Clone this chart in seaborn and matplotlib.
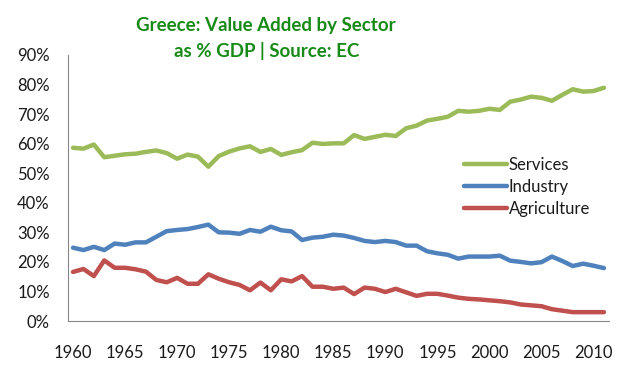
import numpy as np
import pandas as pd
import matplotlib
matplotlib.use("Agg")
import matplotlib.pyplot as plt
import seaborn as sns

# =========================
# Data (% of GDP)
# =========================
years = list(range(1960, 2012))

services = [58.6, 58.3, 59.7, 55.4, 55.9, 56.4, 56.6, 57.2, 57.7, 56.8,
            54.9, 56.3, 55.6, 52.2, 55.8, 57.3, 58.4, 59.1, 57.2, 58.2,
            56.2, 57.1, 57.8, 60.3, 59.9, 60.1, 60.1, 62.9, 61.6, 62.3,
            63.0, 62.6, 65.2, 66.1, 67.8, 68.4, 69.1, 71.1, 70.8, 71.1,
            71.8, 71.4, 74.2, 74.9, 75.9, 75.5, 74.5, 76.5, 78.4, 77.6,
            77.8, 78.9]

industry = [24.8, 24.0, 25.1, 24.0, 26.2, 25.8, 26.6, 26.6, 28.5, 30.4,
            30.8, 31.1, 31.8, 32.6, 30.0, 29.9, 29.5, 30.8, 30.2, 31.9,
            30.7, 30.3, 27.4, 28.2, 28.5, 29.2, 28.9, 28.1, 27.1, 26.7,
            27.1, 26.7, 25.5, 25.5, 23.6, 22.9, 22.4, 21.1, 21.8, 21.8,
            21.8, 22.1, 20.4, 20.0, 19.5, 19.9, 21.8, 20.3, 18.6, 19.4,
            18.7, 17.9]

agriculture = [16.6, 17.6, 15.2, 20.5, 18.0, 18.0, 17.5, 16.7, 13.9, 13.1,
               14.6, 12.6, 12.6, 15.8, 14.3, 13.1, 12.2, 10.4, 13.0, 10.4,
               14.1, 13.4, 15.2, 11.6, 11.6, 10.9, 11.3, 9.1, 11.3, 10.9,
               9.8, 10.9, 9.7, 8.5, 9.2, 9.2, 8.6, 7.9, 7.5, 7.3,
               7.0, 6.7, 6.3, 5.6, 5.3, 5.0, 4.0, 3.5, 3.0, 3.0,
               3.0, 3.0]

sectors = ["Services", "Industry", "Agriculture"]
colors = {"Services": "#9BBB59", "Industry": "#4F81BD", "Agriculture": "#C0504D"}

df = pd.DataFrame({
    "year": years * 3,
    "value": services + industry + agriculture,
    "sector": ["Services"] * len(years) + ["Industry"] * len(years) + ["Agriculture"] * len(years),
})

# =========================
# Plot
# =========================
sns.set_style("white")
plt.rcParams["font.family"] = ["Lato", "DejaVu Sans"]

fig = plt.figure(figsize=(6.28, 3.79), dpi=100)
ax = fig.add_axes([0.108, 0.153, 0.862, 0.702])

sns.lineplot(data=df, x="year", y="value", hue="sector", hue_order=sectors,
             palette=colors, linewidth=3.2, ax=ax, legend=False)

grey = "#868686"
text_col = "#1a1a1a"

ax.set_xlim(1959.5, 2011.5)
ax.set_ylim(0, 90)
ax.set_xlabel("")
ax.set_ylabel("")

ax.set_yticks(np.arange(0, 91, 10))
ax.set_yticklabels([f"{v}%" for v in range(0, 91, 10)], fontsize=12, color=text_col)
ax.set_xticks(range(1960, 2012, 5))
ax.set_xticklabels([str(y) for y in range(1960, 2012, 5)], fontsize=12, color=text_col)
ax.set_xticks(np.arange(1959.5, 2012, 1), minor=True)

ax.tick_params(axis="x", which="major", length=0, pad=17)
ax.tick_params(axis="x", which="minor", length=5, color=grey, width=0.8, direction="out")
ax.tick_params(axis="y", length=5, color=grey, width=0.8, direction="out", pad=8)

for side in ["top", "right"]:
    ax.spines[side].set_visible(False)
for side in ["left", "bottom"]:
    ax.spines[side].set_color(grey)
    ax.spines[side].set_linewidth(0.8)

# legend without frame, placed to the right
handles = [plt.Line2D([], [], color=colors[s], linewidth=3.2) for s in sectors]
fig.legend(handles, sectors, loc="upper left", bbox_to_anchor=(0.725, 0.607),
           frameon=False, fontsize=12, handlelength=2.6, handletextpad=0.1,
           labelspacing=0.35, borderpad=0, labelcolor=text_col)

# title (two lines, green bold)
title_col = "#178A17"
fig.text(0.424, 0.932, "Greece: Value Added by Sector", ha="center", va="center",
         fontsize=13.5, fontweight="bold", color=title_col)
fig.text(0.424, 0.866, "as % GDP | Source: EC", ha="center", va="center",
         fontsize=13.5, fontweight="bold", color=title_col)

fig.savefig("out.png", dpi=100)
